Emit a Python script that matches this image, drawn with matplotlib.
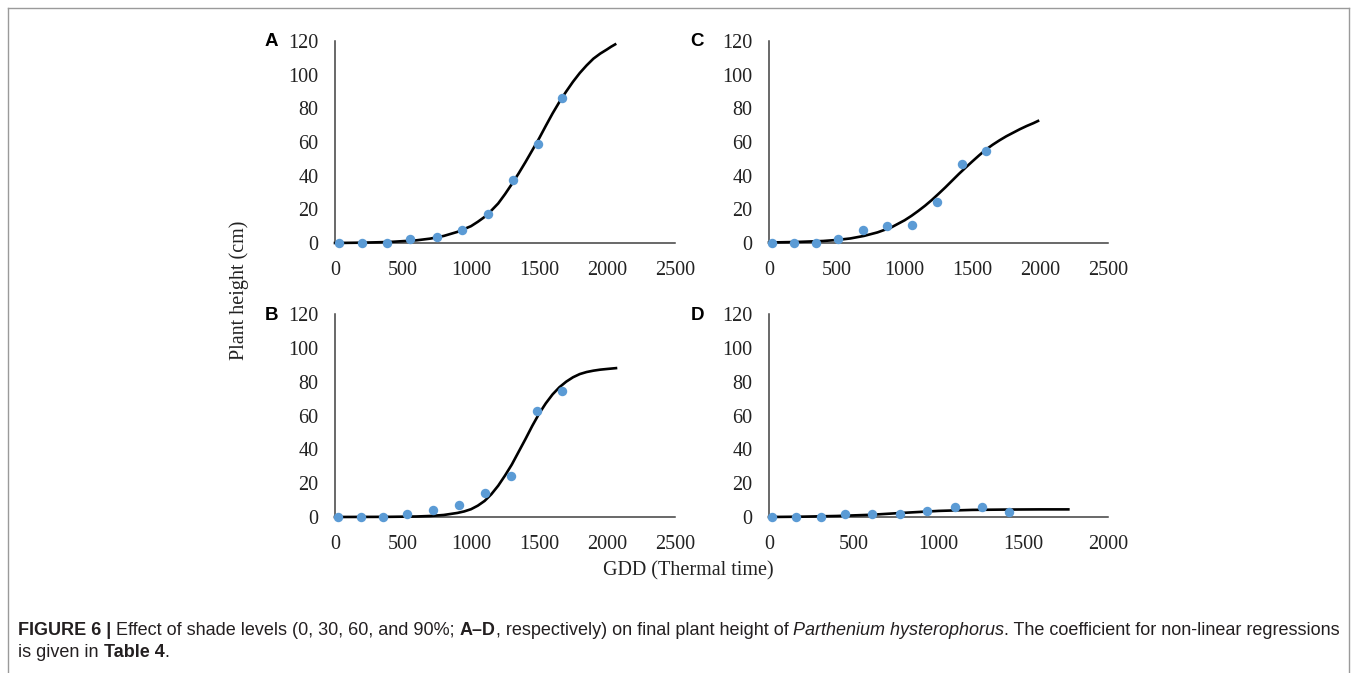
import matplotlib
matplotlib.use('Agg')
import matplotlib.pyplot as plt
from matplotlib.lines import Line2D

a_gdd = [29, 201, 380, 551, 748, 936, 1127, 1306, 1490, 1667]
a_height = [0, 0, 0, 2.2, 3.6, 7.5, 17, 37.6, 58.6, 86]
c_gdd = [20, 182, 344, 508, 690, 872, 1056, 1238, 1422, 1599]
c_height = [0, 0, 0, 2.4, 7.9, 9.9, 10.5, 24.3, 46.8, 54.5]
b_gdd = [25, 191, 355, 532, 718, 909, 1105, 1292, 1485, 1667]
b_height = [0, 0, 0, 2, 4.1, 7.3, 14.4, 24.5, 62.8, 74.4]
d_gdd = [20, 157, 305, 450, 609, 772, 933, 1098, 1259, 1416]
d_height = [0, 0, 0, 1.6, 2, 2, 3.4, 5.7, 5.7, 2.8]

# fitted curves
a_fit_x = [0, 200, 400, 600, 700, 800, 900, 1000, 1050, 1100, 1150, 1200, 1250, 1300, 1350,
           1400, 1450, 1500, 1550, 1600, 1650, 1700, 1750, 1800, 1850, 1900, 1950, 2000, 2030, 2060]
a_fit_y = [0, 0.2, 0.6, 1.6, 2.6, 4.2, 6.6, 10, 12.6, 15.5, 19.3, 23.5, 29, 35, 41.3,
           48, 55, 62, 69.6, 77, 83.8, 90, 95.8, 101, 105.5, 109.5, 112.5, 115, 116.6, 118]
c_fit_x = [0, 200, 400, 500, 600, 700, 800, 900, 1000, 1050, 1100, 1150, 1200, 1250, 1300, 1350,
           1400, 1450, 1500, 1550, 1600, 1650, 1700, 1750, 1800, 1850, 1900, 1950, 1984]
c_fit_y = [0.3, 0.6, 1.2, 1.8, 2.7, 4.2, 6.3, 9.2, 13.5, 16.1, 19, 22.1, 25.5, 29.2, 33, 37,
           41, 44.8, 48.5, 52.1, 55.5, 58.4, 61, 63.4, 65.5, 67.6, 69.5, 71.2, 72.5]
b_fit_x = [0, 400, 600, 700, 800, 900, 950, 1000, 1050, 1100, 1150, 1200, 1250, 1300, 1350,
           1400, 1450, 1500, 1550, 1600, 1650, 1700, 1750, 1800, 1850, 1900, 1950, 2000, 2066]
b_fit_y = [0, 0.1, 0.3, 0.6, 1.2, 2.4, 3.3, 4.6, 6.7, 9.5, 13.5, 18.5, 24.5, 31, 38.5,
           46, 53.8, 61, 67.2, 72.5, 76.7, 80, 82.6, 84.5, 85.7, 86.5, 87.1, 87.5, 88]
d_fit_x = [0, 200, 400, 600, 800, 1000, 1200, 1400, 1600, 1766]
d_fit_y = [0, 0.2, 0.6, 1.3, 2.5, 3.6, 4.2, 4.4, 4.5, 4.5]

y_ticks = [0, 20, 40, 60, 80, 100, 120]
x_ticks_long = [0, 500, 1000, 1500, 2000, 2500]
x_ticks_short = [0, 500, 1000, 1500, 2000]

W, H = 1357, 673
fig = plt.figure(figsize=(W / 100, H / 100), dpi=100)
fig.patch.set_facecolor('white')

serif = 'Liberation Serif'
blue = '#5B9BD5'


def panel(left, top, right, bottom, xs, ys, fx, fy, xticks):
    ax = fig.add_axes([left / W, 1 - bottom / H, (right - left) / W, (bottom - top) / H])
    ax.plot(fx, fy, color='black', lw=1.9, zorder=3, clip_on=False)
    ax.plot(xs, ys, 'o', color=blue, ms=6.8, mec='none', zorder=4, clip_on=False)
    ax.set_xlim(xticks[0], xticks[-1])
    ax.set_ylim(0, 120)
    ax.set_xticks(xticks)
    ax.set_yticks(y_ticks)
    for s in ['top', 'right']:
        ax.spines[s].set_visible(False)
    for s in ['left', 'bottom']:
        ax.spines[s].set_color('#404040')
        ax.spines[s].set_linewidth(1.1)
        ax.spines[s].set_zorder(2)
    ax.tick_params(axis='both', length=0, labelsize=14.5, labelcolor='#222222')
    ax.tick_params(axis='y', pad=12)
    ax.tick_params(axis='x', pad=13)
    for lab in ax.get_xticklabels() + ax.get_yticklabels():
        lab.set_fontfamily(serif)
    ax.set_facecolor('none')
    return ax


panel(335, 41, 675, 243, a_gdd, a_height, a_fit_x, a_fit_y, x_ticks_long)
panel(769, 41, 1108, 243, c_gdd, c_height, c_fit_x, c_fit_y, x_ticks_long)
panel(335, 314, 675, 517, b_gdd, b_height, b_fit_x, b_fit_y, x_ticks_long)
panel(769, 314, 1108, 517, d_gdd, d_height, d_fit_x, d_fit_y, x_ticks_short)

# panel letters
for letter, px, py in [('A', 271, 41), ('C', 697, 41), ('B', 271, 315), ('D', 697, 315)]:
    fig.text(px / W, 1 - py / H, letter, fontsize=13.5, fontweight='bold',
             family='Liberation Sans', ha='center', va='center')

# shared axis titles
fig.text(239 / W, 1 - 290 / H, 'Plant height (cm)', rotation=90, family=serif,
         fontsize=14.5, ha='center', va='center', color='#222222')
fig.text(688 / W, 1 - 571 / H, 'GDD (Thermal time)', family=serif,
         fontsize=14.5, ha='center', va='center', color='#222222')

# frame around figure
frame_kw = dict(color='#9a9a9a', lw=1.0, transform=fig.transFigure)
fig.add_artist(Line2D([8 / W, 1349 / W], [1 - 8 / H, 1 - 8 / H], **frame_kw))
fig.add_artist(Line2D([8 / W, 8 / W], [1 - 8 / H, 0], **frame_kw))
fig.add_artist(Line2D([1349 / W, 1349 / W], [1 - 8 / H, 0], **frame_kw))

# caption with mixed styles
cap_family = ['Liberation Sans Narrow', 'Liberation Sans']
line1 = [('FIGURE 6 | ', 'bold', 'normal'),
         ('Effect of shade levels (0, 30, 60, and 90%; ', 'normal', 'normal'),
         ('A\u2013D', 'bold', 'normal'),
         (', respectively) on final plant height of ', 'normal', 'normal'),
         ('Parthenium hysterophorus', 'normal', 'italic'),
         ('. The coefficient for non-linear regressions', 'normal', 'normal')]
line2 = [('is given in ', 'normal', 'normal'),
         ('Table 4', 'bold', 'normal'),
         ('.', 'normal', 'normal')]

renderer = fig.canvas.get_renderer()


def draw_line(pieces, x_px, base_px, size):
    x = x_px
    for s, wt, st in pieces:
        t = fig.text(x / W, 1 - base_px / H, s, fontsize=size, fontweight=wt,
                     fontstyle=st, family=cap_family, va='baseline', ha='left',
                     color='#231f20')
        x += t.get_window_extent(renderer).width
    return x - x_px


def measure(pieces, size):
    total = 0
    for s, wt, st in pieces:
        t = fig.text(0, 0, s, fontsize=size, fontweight=wt, fontstyle=st,
                     family=cap_family)
        total += t.get_window_extent(renderer).width
        t.remove()
    return total


size = 12
w1 = measure(line1, size)
size = size * 1327 / w1
draw_line(line1, 18, 635, size)
draw_line(line2, 18, 657, size)

fig.savefig('out.png', dpi=100)
